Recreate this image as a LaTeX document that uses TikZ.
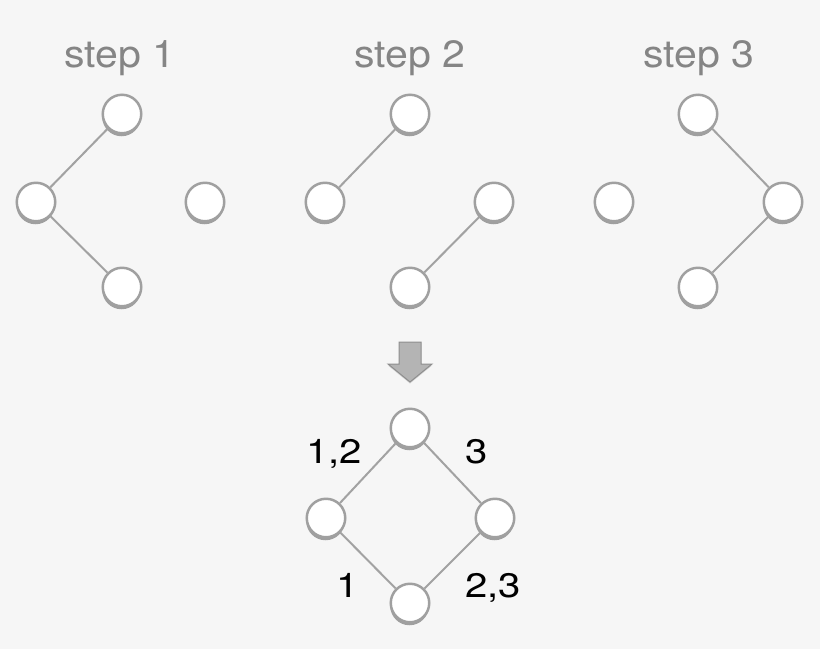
\documentclass[tikz,border=0pt]{standalone}
\usepackage{fontspec}
\setmainfont{TeX Gyre Heros}
\usepackage{tikz}
\usetikzlibrary{shadows}

\definecolor{bgcol}{HTML}{F6F6F6}
\definecolor{edgecol}{HTML}{A2A2A2}
\definecolor{ringcol}{HTML}{A0A0A0}
\definecolor{stepcol}{HTML}{858585}
\definecolor{arrowfill}{HTML}{B4B4B4}
\definecolor{arrowline}{HTML}{8E8E8E}

\tikzset{
  vertex/.style={draw=ringcol, line width=2.5pt, circle, fill=white, minimum size=38.5pt, inner sep=0pt,
    drop shadow={shadow xshift=-0.5pt, shadow yshift=-3pt, opacity=0.6, fill=black!60}},
  link/.style={draw=edgecol, line width=2pt},
  steplabel/.style={text=stepcol, anchor=base, xscale=1.08, font=\fontsize{38}{40}\selectfont},
  edgelabel/.style={text=black, anchor=base, xscale=1.18, font=\fontsize{34}{36}\selectfont}
}

\begin{document}
\begin{tikzpicture}[x=1pt, y=-1pt]

\fill[bgcol] (0,0) rectangle (820,649);
\useasboundingbox (0,0) rectangle (820,649);

% titles

\node[steplabel] (title1) at (120, 67) {step 1};
\node[steplabel] (title2) at (410, 67) {step 2};
\node[steplabel] (title3) at (699, 67) {step 3};

% step 1 nodes
\node[vertex] (s1top) at (122, 114) {};
\node[vertex] (s1left) at (36, 202) {};
\node[vertex] (s1right) at (205, 202) {};
\node[vertex] (s1bot) at (122, 287) {};

% step 2 nodes
\node[vertex] (s2top) at (410, 114) {};
\node[vertex] (s2left) at (325, 202) {};
\node[vertex] (s2right) at (494, 202) {};
\node[vertex] (s2bot) at (410, 287) {};

% step 3 nodes
\node[vertex] (s3top) at (698, 114) {};
\node[vertex] (s3left) at (614, 202) {};
\node[vertex] (s3right) at (783, 202) {};
\node[vertex] (s3bot) at (698, 287) {};

% step edges
\draw[link] (s1top) -- (s1left);
\draw[link] (s1left) -- (s1bot);

\draw[link] (s2top) -- (s2left);
\draw[link] (s2right) -- (s2bot);

\draw[link] (s3top) -- (s3right);
\draw[link] (s3right) -- (s3bot);

% down arrow
\draw[draw=arrowline, fill=arrowfill, line width=1pt, line join=miter,
  drop shadow={shadow xshift=0pt, shadow yshift=-1.5pt, opacity=0.25, fill=black!60}]
  (399, 342) -- (421, 342) -- (421, 364) -- (432, 364) -- (410, 382)
  -- (388, 364) -- (399, 364) -- cycle;

% merged result
\node[vertex] (rtop) at (410, 428) {};
\node[vertex] (rleft) at (326, 518) {};
\node[vertex] (rright) at (495, 518) {};
\node[vertex] (rbot) at (410, 603) {};

\draw[link] (rtop) -- (rleft);
\draw[link] (rtop) -- (rright);
\draw[link] (rleft) -- (rbot);
\draw[link] (rright) -- (rbot);

\node[edgelabel] (lab12) at (334, 463) {1,2};
\node[edgelabel] (lab3) at (477, 463) {3};
\node[edgelabel] (lab1) at (348, 597) {1};
\node[edgelabel] (lab23) at (493, 597) {2,3};

\end{tikzpicture}
\end{document}
